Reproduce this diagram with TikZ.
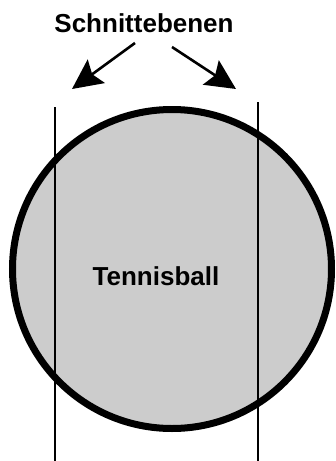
\documentclass[tikz,border=0pt]{standalone}
\usepackage{fontspec}
\setmainfont{Liberation Sans}
\usetikzlibrary{arrows.meta,positioning}
\tikzset{
    ball/.style = {circle, minimum size=319pt, inner sep=0pt, line width=7pt, draw=black, fill=black!20},
    caption/.style = {font=\fontsize{26}{28}\selectfont\bfseries, inner sep=0pt},
    plane/.style = {line width=1.8pt, black},
    pointer/.style = {line width=2.6pt, -{Stealth[length=30pt, width=29pt, inset=5pt]}}
}
\begin{document}
\begin{tikzpicture}[x=1pt, y=-1pt]
    \useasboundingbox (0,0) rectangle (336,461);

    \node [ball] (tennisball) at (172,269) {};
    \node [caption] (balltext) at (156,276) {Tennisball};
    \node [caption] (title) at (144,23) {Schnittebenen};

    % cutting planes
    \coordinate (leftTop) at (55,107);
    \coordinate (leftBottom) at (55,461);
    \coordinate (rightTop) at (258,102);
    \coordinate (rightBottom) at (258,461);
    \draw [plane] (leftTop) -- (leftBottom);
    \draw [plane] (rightTop) -- (rightBottom);

    % arrows from the caption
    \coordinate (leftStart) at (135,43);
    \coordinate (leftTip) at (72,89);
    \coordinate (rightStart) at (172,47);
    \coordinate (rightTip) at (236,89);
    \draw [pointer] (leftStart) -- (leftTip);
    \draw [pointer] (rightStart) -- (rightTip);
\end{tikzpicture}
\end{document}
